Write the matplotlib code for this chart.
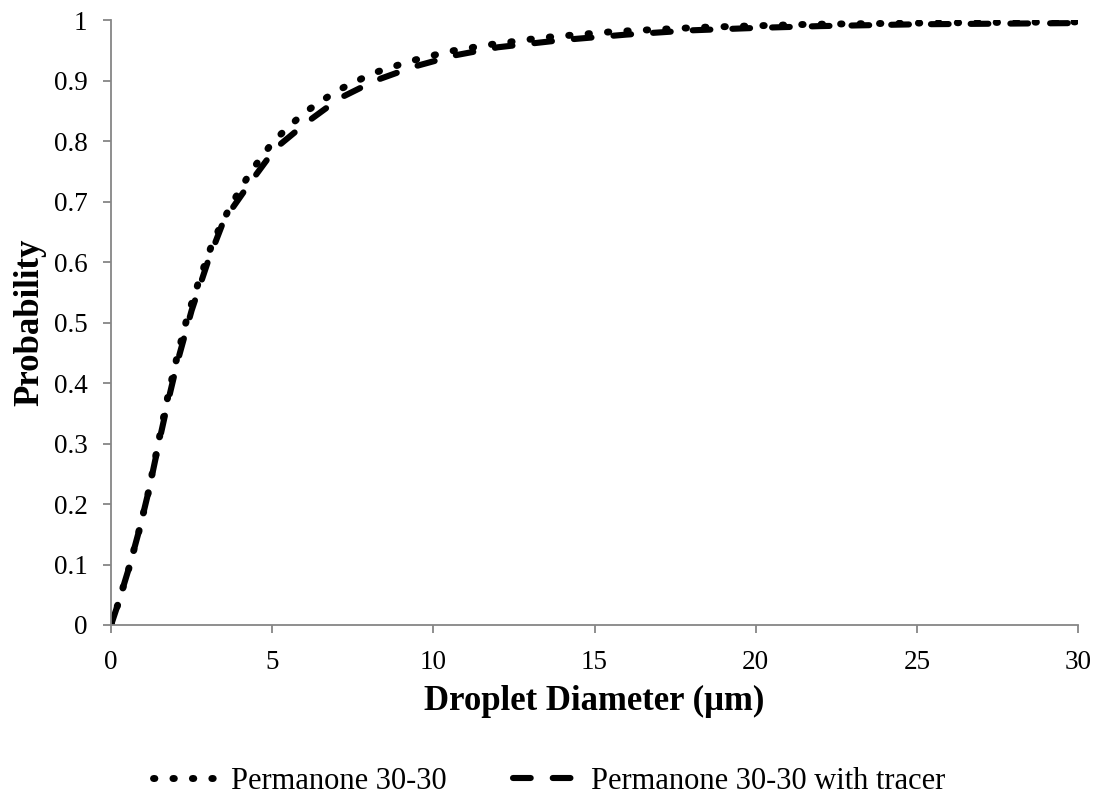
import matplotlib
matplotlib.use('Agg')
import matplotlib.pyplot as plt
from matplotlib.ticker import FuncFormatter

# droplet size CDFs
d_plain = [0, 0.2, 0.56, 0.88, 1.17, 1.5, 1.77, 2.06, 2.37, 2.74, 3.17, 3.71, 4.33, 5.04,
           5.97, 7.0, 8.12, 9.28, 10.47, 11.7, 13.4, 15.6, 18.3, 21.7, 25, 27.2, 30]
p_plain = [0, 0.032, 0.095, 0.158, 0.222, 0.31, 0.38, 0.446, 0.51, 0.571, 0.635, 0.693, 0.749, 0.80,
           0.846, 0.883, 0.912, 0.932, 0.948, 0.959, 0.971, 0.981, 0.988, 0.993, 0.995, 0.996, 0.997]

d_tracer = [0, 0.2, 0.56, 0.88, 1.17, 1.5, 1.77, 2.06, 2.5, 3.0, 3.5, 4.3, 5.1, 6.1, 7.1,
            8.2, 9.4, 10.7, 12, 14, 16, 18, 20, 22, 25, 30]
p_tracer = [0, 0.032, 0.095, 0.158, 0.222, 0.305, 0.37, 0.435, 0.52, 0.60, 0.669, 0.73, 0.788, 0.832, 0.871,
            0.90, 0.923, 0.942, 0.955, 0.967, 0.976, 0.983, 0.987, 0.99, 0.993, 0.995]

labels = ['Permanone 30-30', 'Permanone 30-30 with tracer']

plt.rcParams['font.family'] = ['Liberation Serif', 'DejaVu Serif']

fig = plt.figure(figsize=(11.05, 8.02), dpi=100)
ax = fig.add_axes([0.1005, 0.2207, 0.8751, 0.7543])

ax.plot(d_plain, p_plain, color='black', lw=5.0, dash_capstyle='round',
        linestyle=(0, (0.2, 2.6)), label=labels[0])
ax.plot(d_tracer, p_tracer, color='black', lw=4.4, dash_capstyle='round',
        linestyle=(0, (2.9, 3.6)), label=labels[1])

ax.set_xlim(0, 30)
ax.set_ylim(0, 1)
ax.set_xticks(range(0, 31, 5))
ax.set_yticks([i / 10 for i in range(11)])
ax.yaxis.set_major_formatter(FuncFormatter(lambda v, p: '%g' % round(v, 1)))

for s in ['top', 'right']:
    ax.spines[s].set_visible(False)
for s in ['left', 'bottom']:
    ax.spines[s].set_color('#868686')
    ax.spines[s].set_linewidth(1.3)
ax.tick_params(direction='out', length=6, width=1.3, color='#868686', labelsize=19.5)
ax.tick_params(axis='y', pad=11)
ax.tick_params(axis='x', pad=12)

ax.set_xlabel('Droplet Diameter (\u03bcm)', fontsize=25, fontweight='bold', labelpad=7)
ax.set_ylabel('Probability', fontsize=25, fontweight='bold', labelpad=5)

fig.legend(loc='center', bbox_to_anchor=(0.497, 0.026), ncol=2, frameon=False,
           handlelength=2.1, columnspacing=2.2, fontsize=22, handletextpad=0.45)

fig.savefig('out.png', dpi=100)
